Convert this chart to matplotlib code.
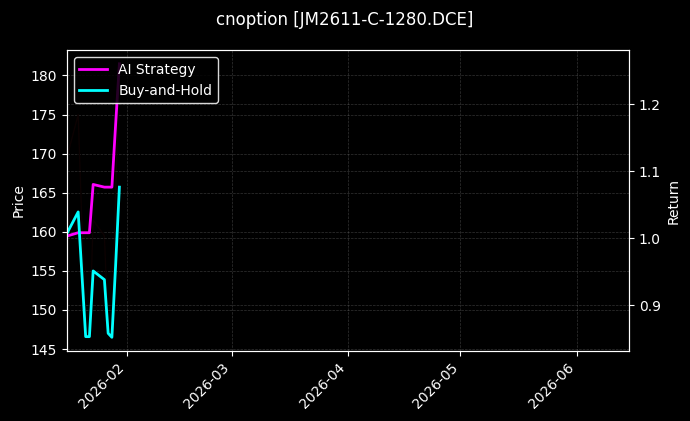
import numpy as np
import pandas as pd
import matplotlib
matplotlib.use("Agg")
import matplotlib.pyplot as plt
import matplotlib.dates as mdates
from matplotlib.ticker import MultipleLocator

# data
dates = pd.to_datetime([
    "2026-01-16", "2026-01-19", "2026-01-20", "2026-01-21", "2026-01-22",
    "2026-01-23", "2026-01-26", "2026-01-27", "2026-01-28", "2026-01-29",
    "2026-01-30",
])
price = [169.5, 175.0, 161.0, 147.0, 146.5, 161.5, 159.5, 147.5, 146.8, 165.0, 181.5]
ai_strategy = [1.003, 1.008, 1.008, 1.008, 1.008, 1.080, 1.076, 1.076, 1.076, 1.17, 1.26]
buy_hold = [1.007, 1.039, 0.946, 0.853, 0.853, 0.951, 0.938, 0.858, 0.852, 0.96, 1.076]

x_start = pd.Timestamp("2026-01-16")
x_end = pd.Timestamp("2026-06-15")

title = "cnoption [JM2611-C-1280.DCE]"

plt.style.use("dark_background")
fig, ax = plt.subplots(figsize=(6.9, 4.21), dpi=100)
fig.subplots_adjust(left=0.097, right=0.9116, top=0.881, bottom=0.1663)

# price line is drawn almost black in the original
ax.plot(dates, price, color="#0c0202", linewidth=1.0)
ax.set_ylabel("Price")
ax.grid(True, linestyle="--", linewidth=0.5, color="gray", alpha=0.4)

ax2 = ax.twinx()
ax2.plot(dates, ai_strategy, color="#ff00ff", linewidth=2, label="AI Strategy")
ax2.plot(dates, buy_hold, color="#00ffff", linewidth=2, label="Buy-and-Hold")
ax2.set_ylabel("Return")
ax2.yaxis.set_major_locator(MultipleLocator(0.1))
ax2.grid(True, linestyle="--", linewidth=0.5, color="gray", alpha=0.4)

ax.set_xlim(x_start, x_end)
ax.xaxis.set_major_locator(mdates.MonthLocator())
ax.xaxis.set_major_formatter(mdates.DateFormatter("%Y-%m"))
plt.setp(ax.get_xticklabels(), rotation=45, ha="right")

leg = ax2.legend(loc="upper left", facecolor="black", edgecolor="white", framealpha=0.85)

fig.suptitle(title, fontsize=12, y=0.975)

fig.savefig("out.png", dpi=100)
